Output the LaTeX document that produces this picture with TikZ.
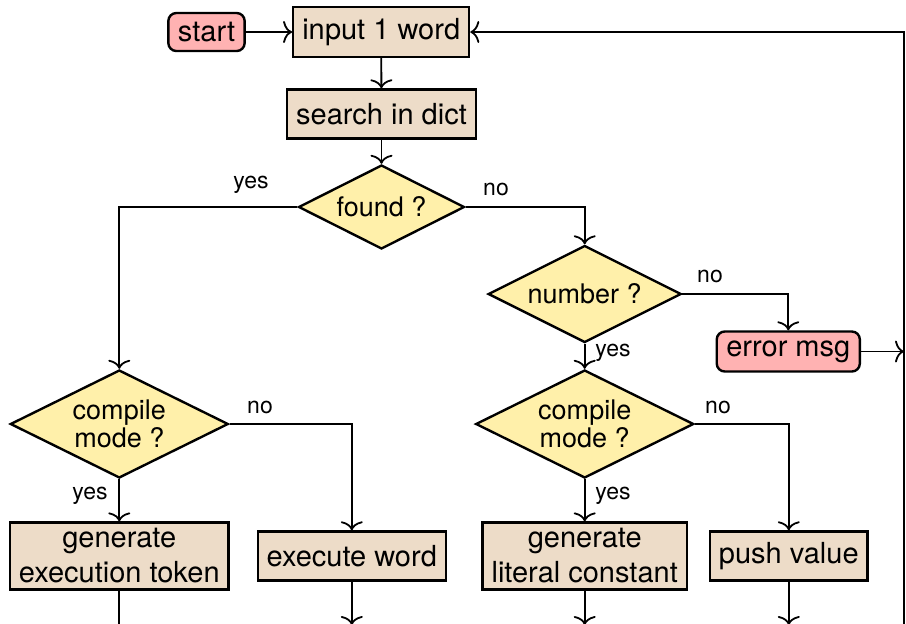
\documentclass[tikz,border=0pt]{standalone}
\usepackage{fontspec}
\setmainfont{TeX Gyre Heros}
\usetikzlibrary{shapes.geometric,arrows.meta}
\definecolor{boxfill}{RGB}{237,220,200}
\definecolor{decfill}{RGB}{255,240,170}
\definecolor{termfill}{RGB}{255,178,178}
\begin{document}
\begin{tikzpicture}[x=0.5pt,y=-0.5pt,
  base/.style={draw=black, line width=1.2pt, align=center, font=\fontsize{14.5}{17.5}\selectfont},
  procbox/.style={base, rectangle, fill=boxfill, inner xsep=4.5pt, inner ysep=3pt, minimum height=24.5pt},
  termbox/.style={base, rectangle, rounded corners=4pt, fill=termfill, inner xsep=4.8pt, inner ysep=3pt},
  decision/.style={base, diamond, aspect=2, fill=decfill, inner sep=0pt, font=\fontsize{13.5}{14}\selectfont},
  flow/.style={line width=0.9pt, -{Computer Modern Rightarrow[length=4.5pt,width=11pt]}},
  lbl/.style={font=\fontsize{11.5}{13}\selectfont, inner sep=0pt}
]
\useasboundingbox (0,0) rectangle (906,623);
\node[termbox, minimum height=19pt] (start) at (206.5,32) {start};
\node[procbox, minimum height=25pt] (input) at (381.2,32) {input 1 word};
\node[procbox] (search) at (381.5,114) {search in dict};
\node[decision, minimum width=83pt, minimum height=42pt] (found) at (381.5,207) {found ?};
\node[decision, minimum width=96.5pt, minimum height=48.5pt] (number) at (584.7,294) {number ?};
\node[termbox, minimum height=20pt] (error) at (788.3,351.5) {error msg};
\node[decision, minimum width=109pt, minimum height=54pt] (cm1) at (119.3,424) {compile\\mode ?};
\node[decision, minimum width=109pt, minimum height=54pt] (cm2) at (584.7,424) {compile\\mode ?};
\node[procbox] (gen1) at (119.3,556) {generate\\execution token};
\node[procbox] (exec) at (351.8,556) {execute word};
\node[procbox] (gen2) at (584.7,556) {generate\\literal constant};
\node[procbox] (push) at (788.8,556) {push value};
\coordinate (rtop) at (904,32);
\coordinate (rbot) at (904,625);
\coordinate (bl) at (119.3,625);
\node[lbl] (yes1) at (251,185) {yes};
\node[lbl] (no1) at (496,189) {no};
\node[lbl] (no2) at (710,276) {no};
\node[lbl] (yes2) at (613,353) {yes};
\node[lbl] (no3) at (260,407) {no};
\node[lbl] (yes3) at (90,496) {yes};
\node[lbl] (no4) at (718,407) {no};
\node[lbl] (yes4) at (613,496) {yes};
\draw[flow] (start) -- (input);
\draw[flow] (input) -- (search);
\draw[flow] (search) -- (found);
\draw[flow] (found.west) -| (cm1.north);
\draw[flow] (found.east) -| (number.north);
\draw[flow] (number.east) -| (error.north);
\draw[flow] (number.south) -- (cm2.north);
\draw[flow] (cm1.south) -- (gen1.north);
\draw[flow] (cm1.east) -| (exec.north);
\draw[flow] (cm2.south) -- (gen2.north);
\draw[flow] (cm2.east) -| (push.north);
\draw[flow] (error.east) -- (error.east -| rtop);
\draw[flow] (gen1.south) -- (bl) -- (rbot) -- (rtop) -- (input.east);
\draw[flow] (exec.south) -- (exec.south |- bl);
\draw[flow] (gen2.south) -- (gen2.south |- bl);
\draw[flow] (push.south) -- (push.south |- bl);
\end{tikzpicture}
\end{document}
